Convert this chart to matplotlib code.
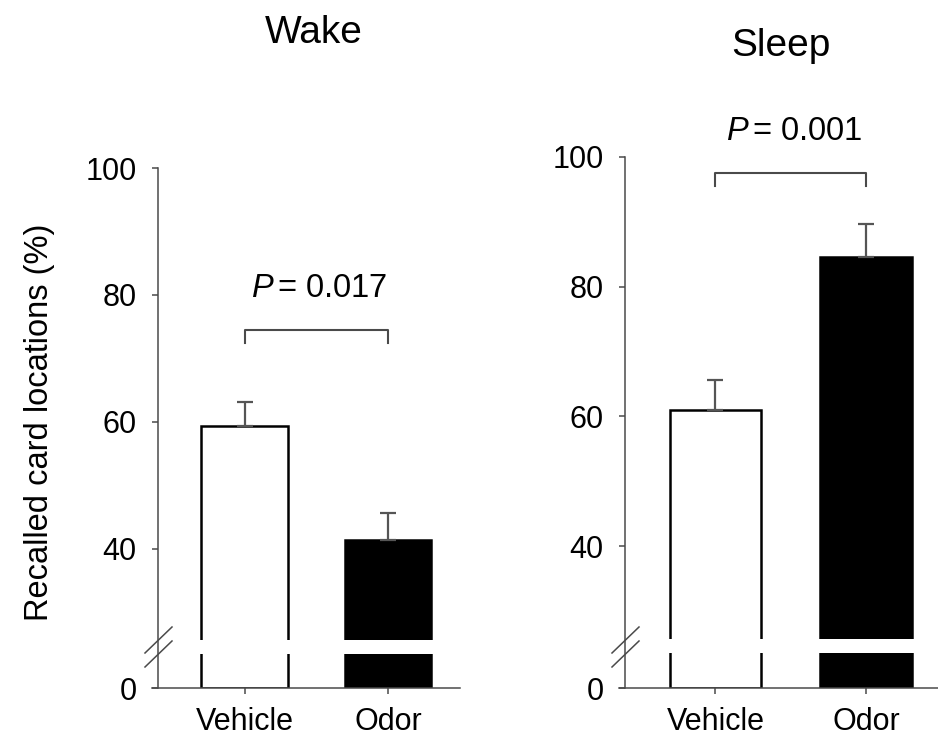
import numpy as np
import matplotlib
matplotlib.use("Agg")
import matplotlib.pyplot as plt
from matplotlib.patches import Rectangle

plt.rcParams['font.family'] = ['Liberation Sans', 'DejaVu Sans']
plt.rcParams['mathtext.fontset'] = 'custom'
plt.rcParams['mathtext.it'] = 'Liberation Sans:italic'
plt.rcParams['mathtext.rm'] = 'Liberation Sans'

# datos
grupos = ["Vehicle", "Odor"]
wake_medias = [59.4, 41.4]
wake_sem = [3.7, 4.2]
sleep_medias = [61.0, 84.6]
sleep_sem = [4.6, 5.1]
p_wake = "0.017"
p_sleep = "0.001"
yticks = [0, 40, 60, 80, 100]

# eje y cortado: 0..B comprimido
LO = 18.1
B = 26.0


def fwd(v):
    v = np.asarray(v, dtype=float)
    return np.where(v >= B, v, LO + v * (B - LO) / B)


def inv(t):
    t = np.asarray(t, dtype=float)
    return np.where(t >= B, t, (t - LO) * B / (B - LO))


W, H = 938, 746
fig = plt.figure(figsize=(W / 100, H / 100), dpi=100)

gris = '#4a4a4a'


def panel(rect_px, medias, sem, p_txt, y_corchete, y_texto, xlim):
    l, r, b, t = rect_px
    ax = fig.add_axes([l / W, 1 - b / H, (r - l) / W, (b - t) / H])
    ax.set_yscale('function', functions=(fwd, inv))
    x = np.arange(len(grupos))
    ax.bar(x, medias, width=0.605, color=['white', 'black'],
           edgecolor='black', linewidth=1.8, zorder=1)
    ax.errorbar(x, medias, yerr=[np.zeros(len(sem)), sem], fmt='none',
                ecolor='#555555', elinewidth=1.6, capsize=5.8, capthick=1.6, zorder=2)
    ax.set_ylim(0, 100)
    ax.set_xlim(*xlim)
    ax.set_yticks(yticks)
    ax.set_xticks(x)
    ax.set_xticklabels(grupos)
    ax.tick_params(axis='y', direction='out', length=4.5, width=1.1, color=gris,
                   labelsize=22, pad=11)
    ax.tick_params(axis='x', direction='out', length=4, width=1.1, color=gris,
                   labelsize=22, pad=10)
    ax.yaxis.set_minor_locator(matplotlib.ticker.NullLocator())
    for s in ['top', 'right']:
        ax.spines[s].set_visible(False)
    for s in ['left', 'bottom']:
        ax.spines[s].set_color(gris)
        ax.spines[s].set_linewidth(1.1)
    ax.spines['left'].set_zorder(3)
    # el eje x empieza un poco antes del eje y
    wpx = (r - l)
    ax.spines['bottom'].set_bounds(xlim[0] - 6 / wpx * (xlim[1] - xlim[0]), xlim[1])

    # hueco del corte en las barras
    ax.add_patch(Rectangle((0, 0.066), 1, 0.027, transform=ax.transAxes,
                           facecolor='white', edgecolor='none', zorder=2.2))
    # marcas del corte
    hpx = (b - t)
    for y0 in [654, 640]:
        yc = (b - y0) / hpx
        ax.plot([-13 / wpx, 14 / wpx], [yc - 13 / hpx, yc + 13 / hpx],
                transform=ax.transAxes, color=gris, lw=1.1, clip_on=False, zorder=4)

    # corchete y valor de P
    ax.plot([0, 0, 1, 1], [y_corchete - 2.1, y_corchete, y_corchete, y_corchete - 2.1],
            color=gris, lw=1.5, clip_on=False)
    ax.text(0.52, y_texto, r"$\mathit{P}\,$" + "= " + p_txt, ha='center', va='center',
            fontsize=23.5, clip_on=False)
    return ax


ax1 = panel((158, 460, 688, 168), wake_medias, wake_sem, p_wake, 74.5, 81.1,
            (-0.603, 1.502))
ax2 = panel((625, 938, 688, 157), sleep_medias, sleep_sem, p_sleep, 97.6, 103.9,
            (-0.601, 1.478))

fig.text(314 / W, 1 - 43 / H, "Wake", ha='center', va='baseline', fontsize=28)
fig.text(781 / W, 1 - 56 / H, "Sleep", ha='center', va='baseline', fontsize=28)
fig.text(40 / W, 1 - 422 / H, "Recalled card locations (%)", rotation=90,
         ha='center', va='center', fontsize=23.5)

fig.savefig("out.png", dpi=100)
